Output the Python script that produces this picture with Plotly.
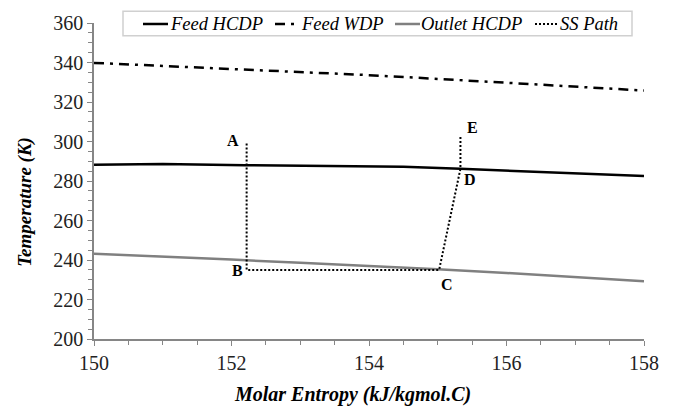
import plotly.graph_objects as go

# Data
x_grid = [150, 151, 152, 153, 154, 155, 156, 157, 158]
feed_wdp = [339.8, 338.3, 336.8, 335.2, 333.6, 331.7, 329.7, 327.8, 325.8]
outlet_hcdp = [243.2, 241.8, 240.2, 238.6, 237.0, 235.3, 233.4, 231.3, 229.2]

feed_hcdp_x = [150, 151, 152.2, 154.5, 155.33, 158]
feed_hcdp_y = [288.2, 288.6, 288.0, 287.2, 286.2, 282.5]

ss_x = [152.22, 152.22, 155.02, 155.33, 155.33]
ss_y = [299.0, 235.0, 235.0, 286.2, 303.0]
ss_labels = ["A", "B", "C", "D", "E"]

x_ticks = [150, 152, 154, 156, 158]
y_ticks = [200, 220, 240, 260, 280, 300, 320, 340, 360]

x_title = "Molar Entropy (kJ/kgmol.C)"
y_title = "Temperature (K)"
series_names = ["Feed HCDP", "Feed WDP", "Outlet HCDP", "SS Path"]

SERIF = "Liberation Serif"
W, H = 678, 407
ML, MR, MT, MB = 94, 34, 19, 68
pw, ph = W - ML - MR, H - MT - MB

styles = [
    dict(color="black", width=2.5),
    dict(color="black", width=2.5, dash="10px,6px,3px,6px"),
    dict(color="#808080", width=2.5),
    dict(color="black", width=2, dash="2px,2px"),
]
xs = [feed_hcdp_x, x_grid, x_grid, ss_x]
ys = [feed_hcdp_y, feed_wdp, outlet_hcdp, ss_y]

fig = go.Figure()
for name, x, y, st in zip(series_names, xs, ys, styles):
    fig.add_trace(go.Scatter(x=x, y=y, mode="lines", name=name, line=st, showlegend=False))

# point labels
offsets = {"A": (-14, 3), "B": (-9, -1), "C": (8, -15), "D": (10, -11), "E": (12, 8)}
for lx, ly, lab in zip(ss_x, ss_y, ss_labels):
    dx, dy = offsets[lab]
    fig.add_annotation(x=lx, y=ly, text="<b>" + lab + "</b>", showarrow=False,
                       xshift=dx, yshift=dy, font=dict(family=SERIF, size=16, color="black"))


def px_x(p):
    return (p - ML) / pw


def px_y(p):
    return (H - MB - p) / ph


# axis titles (placed as annotations to match reference positions)
fig.add_annotation(xref="paper", yref="paper", x=px_x(352), y=px_y(395),
                   text="<b><i>" + x_title + "</i></b>", showarrow=False,
                   xanchor="center", yanchor="middle",
                   font=dict(family=SERIF, size=20, color="black"))
fig.add_annotation(xref="paper", yref="paper", x=px_x(25), y=px_y(200),
                   text="<b><i>" + y_title + "</i></b>", showarrow=False, textangle=-90,
                   xanchor="center", yanchor="middle",
                   font=dict(family=SERIF, size=19, color="black"))

# custom legend box (layout decoration)
fig.add_shape(type="rect", xref="paper", yref="paper",
              x0=px_x(123), x1=px_x(632), y0=px_y(32), y1=px_y(7),
              line=dict(color="#d0d0d0", width=1.5), fillcolor="white", layer="above")
leg_sym = [(143, 168), (275, 296), (395, 420), (535, 558)]
leg_text = [168, 299, 419, 558]
for name, st, (s0, s1), tx in zip(series_names, styles, leg_sym, leg_text):
    fig.add_shape(type="line", xref="paper", yref="paper",
                  x0=px_x(s0), x1=px_x(s1), y0=px_y(20), y1=px_y(20),
                  line=st, layer="above")
    fig.add_annotation(xref="paper", yref="paper", x=px_x(tx), y=px_y(20),
                       text="<i>" + name + "</i>", showarrow=False,
                       xanchor="left", yanchor="middle",
                       font=dict(family=SERIF, size=18.5, color="black"))

fig.update_layout(
    width=W, height=H,
    margin=dict(l=ML, r=MR, t=MT, b=MB),
    plot_bgcolor="white", paper_bgcolor="white",
    font=dict(family=SERIF, color="black"),
    showlegend=False,
    xaxis=dict(range=[150, 158], tickvals=x_ticks, showgrid=False, zeroline=False,
               showline=True, linecolor="#868686", linewidth=1.5,
               ticks="outside", ticklen=5, tickcolor="#868686",
               minor=dict(dtick=0.5, ticks="outside", ticklen=4, tickcolor="#868686"),
               tickfont=dict(family=SERIF, size=20, color="#222")),
    yaxis=dict(range=[200, 360], tickvals=y_ticks, showgrid=False, zeroline=False,
               showline=True, linecolor="#868686", linewidth=1.5,
               ticks="outside", ticklen=5, tickcolor="#868686",
               minor=dict(dtick=5, ticks="outside", ticklen=4, tickcolor="#868686"),
               tickfont=dict(family=SERIF, size=20, color="#222")),
)

fig.write_html("out.html")
